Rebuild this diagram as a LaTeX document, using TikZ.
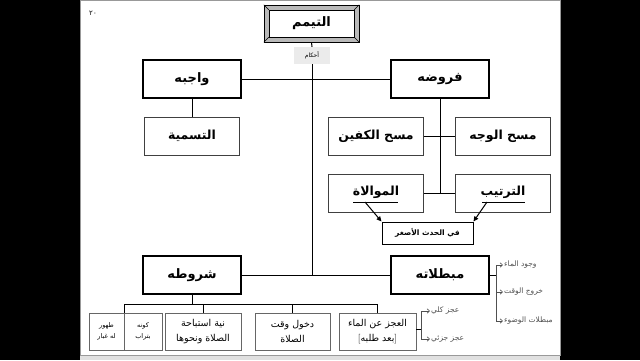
\documentclass[tikz,border=0pt]{standalone}
\usepackage{fontspec}
\newfontfamily\arabicfont[Script=Arabic]{DejaVu Sans}
\TeXXeTstate=1
\usetikzlibrary{arrows.meta, positioning, calc}
\definecolor{bevelgray}{RGB}{185, 185, 185}
\definecolor{sidegray}{RGB}{80, 80, 80}
\newcommand{\artxt}[1]{{\arabicfont\beginR #1\endR}}

\begin{document}
\begin{tikzpicture}[x=1pt, y=-1pt,
  mainbox/.style={draw, line width=2.4pt, fill=white, minimum width=98pt, minimum height=38pt, inner sep=0pt, font=\bfseries\fontsize{13}{15}\selectfont},
  subbox/.style={draw=black!75, line width=0.6pt, minimum width=95pt, minimum height=38pt, inner sep=0pt, font=\bfseries\fontsize{12.5}{15}\selectfont},
  lowbox/.style={draw=black!60, line width=0.5pt, minimum height=37pt, inner sep=0pt, align=center, font=\fontsize{9.5}{15}\selectfont},
  tinybox/.style={lowbox, font=\fontsize{6.5}{11}\selectfont},
  sidetext/.style={text=sidegray, anchor=west, inner sep=1pt, font=\fontsize{7.5}{9}\selectfont},
  sidearrow/.style={draw=sidegray, line width=0.6pt, -{Straight Barb[length=2.5pt, width=4.5pt]}},
  link/.style={line width=1pt}
]
\useasboundingbox (0,0) rectangle (640,360);
\fill[black] (0,0) rectangle (640,360);
\filldraw[fill=white, draw=black!40] (80,0) rectangle (560,355);
\fill[black!12] (80,355.5) rectangle (560,360);

\node[font=\fontsize{7}{8}\selectfont] (pagenum) at (93,13) {\arabicfont ٢٠};

\node[draw, fill=bevelgray, minimum width=95pt, minimum height=37pt] (tayframe) at (311.5,23.5) {};
\node[draw, fill=white, minimum width=85pt, minimum height=27pt, inner sep=0pt, font=\bfseries\fontsize{13}{15}\selectfont] (tayammum) at (tayframe) {\artxt{التيمم}};
\foreach \c in {north west, north east, south west, south east}
  \draw (tayframe.\c) -- (tayammum.\c);
\node[fill=black!8, minimum width=36pt, minimum height=17pt, inner sep=0pt, font=\fontsize{6}{7}\selectfont] (ahkam) at (312,55.5) {\artxt{أحكام}};

\node[mainbox] (wajib) at (192,79) {\artxt{واجبه}};
\node[mainbox] (furud) at (440,79) {\artxt{فروضه}};
\node[subbox] (tasmiya) at (192,136) {\artxt{التسمية}};
\node[subbox] (kaffayn) at (376,136) {\artxt{مسح الكفين}};
\node[subbox] (wajh) at (503,136) {\artxt{مسح الوجه}};
\node[subbox] (muwalat) at (376,193) {\raisebox{4pt}{\artxt{الموالاة}}};
\node[subbox] (tartib) at (503,193) {\raisebox{4pt}{\artxt{الترتيب}}};
\node[draw, line width=1pt, minimum width=91pt, minimum height=22pt, inner sep=0pt, font=\bfseries\fontsize{7.5}{9}\selectfont] (hadath) at (427.5,233) {\artxt{في الحدث الأصغر}};

\node[mainbox] (shurut) at (192,275) {\artxt{شروطه}};
\node[mainbox] (mubtilat) at (440,275) {\artxt{مبطلاته}};

\node[tinybox, minimum width=35pt] (tahur) at (106.5,331.5) {\artxt{طهور}\\\artxt{له غبار}};
\node[tinybox, minimum width=38pt] (kawnuh) at (143,331.5) {\artxt{كونه}\\\artxt{بتراب}};
\node[lowbox, minimum width=76pt] (niyya) at (203,331.5) {\artxt{نية استباحة}\\\artxt{الصلاة ونحوها}};
\node[lowbox, minimum width=75pt] (dukhul) at (292.5,331.5) {\artxt{دخول وقت}\\\artxt{الصلاة}};
\node[lowbox, minimum width=77pt] (ajz) at (377.5,331.5) {\artxt{العجز عن الماء}\\{[\artxt{بعد طلبه}]}};

\node[sidetext] (wujud) at (503,265) {\artxt{وجود الماء}};
\node[sidetext] (khuruj) at (503,292) {\artxt{خروج الوقت}};
\node[sidetext] (wudu) at (503,321) {\artxt{مبطلات الوضوء}};
\node[sidetext] (kulli) at (430,311) {\artxt{عجز كلي}};
\node[sidetext] (juzi) at (430,339) {\artxt{عجز جزئي}};

\draw[link] (tayframe.south) -- (ahkam.north);
\draw[link] (ahkam.south) -- (ahkam.south |- shurut.east);
\draw[link] (wajib.east) -- (furud.west);
\draw[link] (shurut.east) -- (mubtilat.west);
\draw[link] (wajib.south) -- (tasmiya.north);
\draw[link] (furud.south) -- (furud.south |- muwalat.east);
\draw[link] (kaffayn.east) -- (wajh.west);
\draw[link] (muwalat.east) -- (tartib.west);

\draw[link] ($(muwalat.center)+(-23,9)$) coordinate (mul) -- ($(muwalat.center)+(22,9)$);
\draw[link] ($(tartib.center)+(-21,9)$) coordinate (tal) -- ($(tartib.center)+(22,9)$);
\draw[link, -{Triangle[length=5pt, width=4.5pt]}] ($(mul)+(12,0)$) -- (hadath.north west);
\draw[link, -{Triangle[length=5pt, width=4.5pt]}] ($(tal)+(5,0)$) -- (hadath.north east);

\draw[link] (shurut.south) -- ++(0,9) coordinate (bus);
\draw[link] (tahur.north east |- bus) -- (ajz.north |- bus);
\draw[link] (tahur.north east |- bus) -- (tahur.north east);
\foreach \n in {niyya, dukhul, ajz}
  \draw[link] (\n.north |- bus) -- (\n.north);

\draw[link] (mubtilat.east) -- ++(6,0) coordinate (mbr);
\draw[draw=sidegray, line width=0.7pt] (mbr |- wujud.west) -- (mbr |- wudu.west);
\foreach \n in {wujud, khuruj, wudu}
  \draw[sidearrow] (mbr |- \n.west) -- (\n.west);

\draw[link] ($(ajz.east)+(0,-2)$) -- ++(5,0) coordinate (ajr);
\draw[draw=sidegray, line width=0.7pt] (ajr |- kulli.west) -- (ajr |- juzi.west);
\foreach \n in {kulli, juzi}
  \draw[sidearrow] (ajr |- \n.west) -- (\n.west);
\end{tikzpicture}
\end{document}
